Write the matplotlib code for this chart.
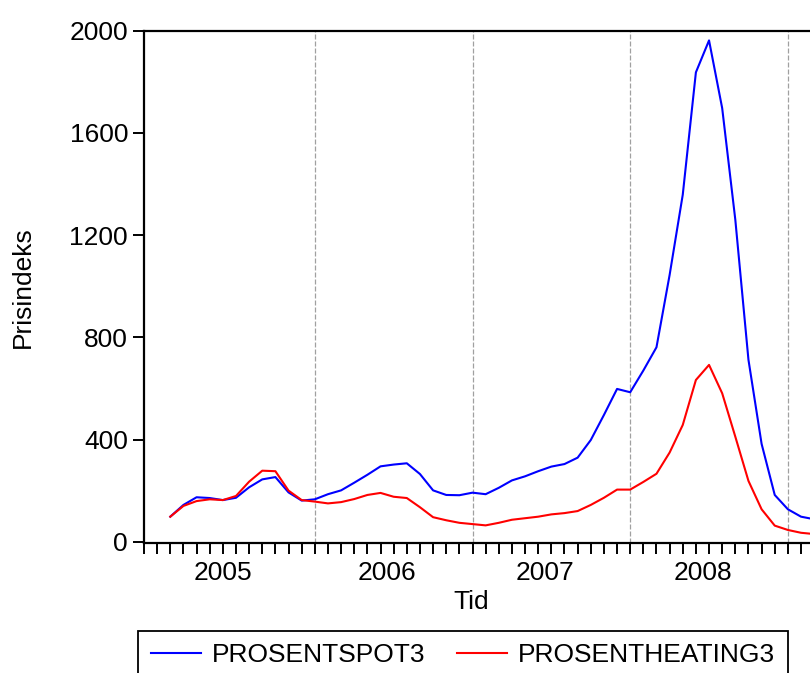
import matplotlib
matplotlib.use("Agg")
import matplotlib.pyplot as plt
import pandas as pd

# monthly observations, first one is February 2005
start_month = "2005-02"
spot = [98, 144, 174, 171, 163, 172, 213, 244, 253, 193, 161, 166,
        186, 201, 231, 262, 295, 302, 307, 265, 201, 183, 182, 192,
        186, 211, 240, 256, 276, 294, 304, 329, 398, 496, 598, 585,
        670, 761, 1044, 1358, 1837, 1962, 1697, 1260, 712, 383, 183, 127,
        98, 88]
heating = [98, 140, 159, 166, 163, 179, 235, 278, 276, 200, 163, 157,
           150, 155, 167, 183, 191, 176, 171, 135, 96, 84, 74, 69,
           64, 74, 86, 92, 98, 107, 112, 120, 144, 172, 204, 204,
           234, 266, 349, 457, 633, 692, 581, 411, 238, 127, 63, 46,
           35, 30]
series_names = ["PROSENTSPOT3", "PROSENTHEATING3"]
years = [2005, 2006, 2007, 2008]
y_ticks = [0, 400, 800, 1200, 1600, 2000]

plt.rcParams["font.family"] = "Liberation Sans"
plt.rcParams["font.size"] = 19

months = pd.period_range(start_month, periods=len(spot), freq="M")
# month index: Dec 2004 = 0, Jan 2005 = 1, ...
x = [(m.year - 2005) * 12 + m.month for m in months]

fig = plt.figure(figsize=(8.1, 6.73), dpi=100)
ax = fig.add_axes([144 / 810, 1 - 543 / 673, 683.3 / 810, 512.3 / 673])

# dashed lines at each new year
for yr in range(2006, 2010):
    ax.axvline((yr - 2005) * 12 + 1, color="#a0a0a0", lw=0.9, dashes=(4, 1.6), zorder=1)

ax.plot(x, spot, color="#0000ff", lw=1.5, label=series_names[0], zorder=3)
ax.plot(x, heating, color="#ff0000", lw=1.5, label=series_names[1], zorder=3)

ax.set_xlim(0, 52)
ax.set_ylim(-5, 2000)

ax.set_yticks(y_ticks)
ax.set_xticks(range(0, 53))
ax.set_xticklabels([])
# year labels sit in the middle of each year's months
year_centers = [(yr - 2005) * 12 + 6.5 for yr in years]
year_centers[0] -= 0.5  # first year is cut by the axis start
ax.xaxis.remove_overlapping_locs = False
ax.set_xticks(year_centers, minor=True)
ax.set_xticklabels([str(yr) for yr in years], minor=True)
ax.tick_params(axis="y", direction="out", length=8, width=1.4, pad=3.5)
ax.tick_params(axis="x", which="major", direction="out", length=8, width=1.4)
ax.tick_params(axis="x", which="minor", length=0, pad=13)

for side in ["left", "top", "bottom"]:
    ax.spines[side].set_linewidth(1.6)
ax.spines["right"].set_visible(False)

ax.set_xlabel("Tid")
ax.xaxis.set_label_coords((471.5 - 144) / 683.3, -0.092)
fig.text(23 / 810, 1 - 286.7 / 673, "Prisindeks", rotation=90, ha="center", va="center")

leg = fig.legend(loc="upper left", bbox_to_anchor=(138.3 / 810, 1 - 631 / 673),
                 ncol=2, borderaxespad=0, borderpad=0.47, handlelength=1.9,
                 handletextpad=0.4, columnspacing=1.23, fancybox=False,
                 framealpha=1, edgecolor="black")
leg.get_frame().set_linewidth(1.3)

fig.savefig("out.png", dpi=100)
